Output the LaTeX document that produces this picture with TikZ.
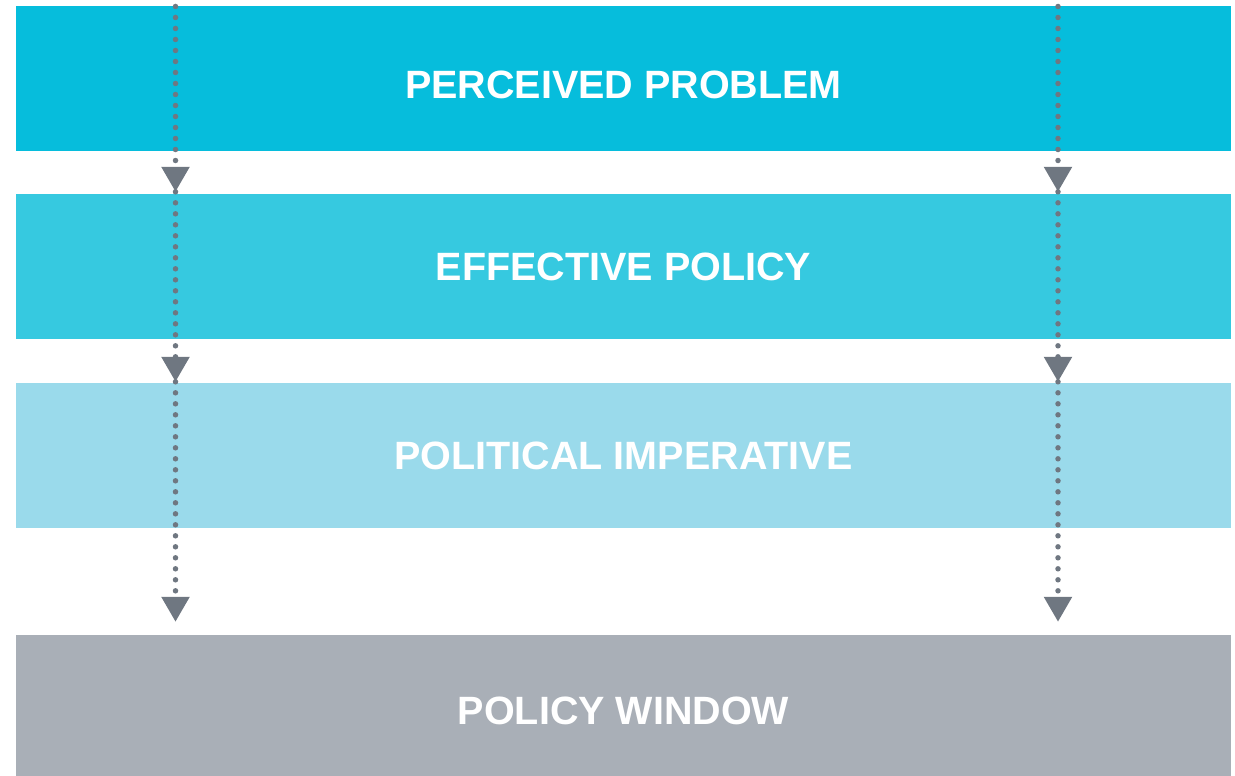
\documentclass[tikz,border=0pt]{standalone}
\usepackage{fontspec}
\setmainfont{Liberation Sans}
\usetikzlibrary{arrows.meta}
\definecolor{bandA}{HTML}{06BDDC}
\definecolor{bandB}{HTML}{36C9E0}
\definecolor{bandC}{HTML}{9ADAEB}
\definecolor{bandD}{HTML}{A9AFB7}
\definecolor{flowgray}{HTML}{6F7781}
\tikzset{
  band/.style={rectangle, inner sep=0pt, minimum width=1215pt},
  bandtext/.style={text=white, inner sep=0pt,
    font=\fontsize{39.5}{42}\selectfont\bfseries},
  flow/.style={draw=flowgray, line width=5.5pt, line cap=round,
    dash pattern=on 0pt off 11pt,
    -{Triangle[width=27pt,length=25pt,fill=flowgray]}}
}
\begin{document}
\begin{tikzpicture}[x=1pt,y=-1pt]
\useasboundingbox (0,0) rectangle (1235,776);
\node[band, fill=bandA, minimum height=145pt] (b1) at (623.5,78.5) {};
\node[band, fill=bandB, minimum height=145pt] (b2) at (623.5,266.5) {};
\node[band, fill=bandC, minimum height=145pt] (b3) at (623.5,455.5) {};
\node[band, fill=bandD, minimum height=141pt] (b4) at (623.5,705.5) {};
\node[bandtext] (t1) at ([yshift=-6.5pt]b1.center) {PERCEIVED PROBLEM};
\node[bandtext] (t2) at (b2.center) {EFFECTIVE POLICY};
\node[bandtext] (t3) at (b3.center) {POLITICAL IMPERATIVE};
\node[bandtext] (t4) at ([yshift=-5pt]b4.center) {POLICY WINDOW};
\coordinate (L0) at (175.5,6.5);
\coordinate (R0) at (1058,6.5);
\coordinate (L1) at ([yshift=2pt]b2.north -| L0);
\coordinate (R1) at ([yshift=2pt]b2.north -| R0);
\coordinate (L2) at ([yshift=1pt]b3.north -| L0);
\coordinate (R2) at ([yshift=1pt]b3.north -| R0);
\coordinate (L3) at ([yshift=13pt]b4.north -| L0);
\coordinate (R3) at ([yshift=13pt]b4.north -| R0);
\draw[flow] (L0) -- (L1);
\draw[flow] (L1) -- (L2);
\draw[flow] (L2) -- (L3);
\draw[flow] (R0) -- (R1);
\draw[flow] (R1) -- (R2);
\draw[flow] (R2) -- (R3);
\end{tikzpicture}
\end{document}
